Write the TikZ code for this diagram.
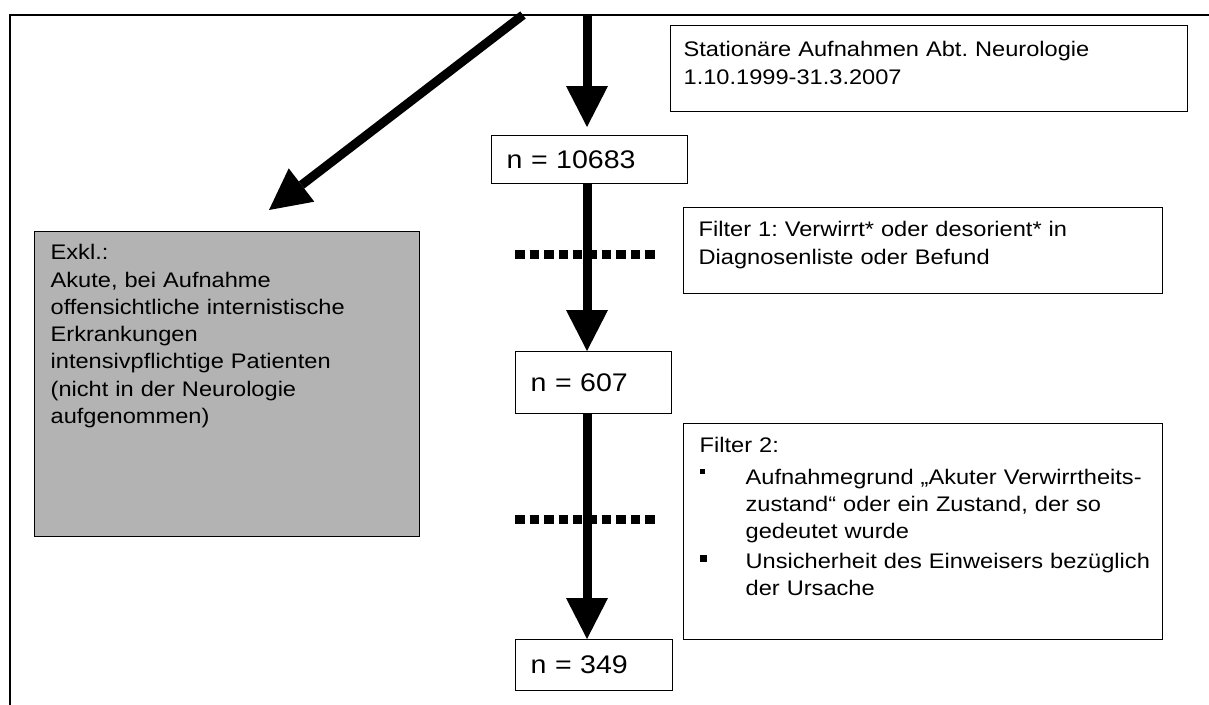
\documentclass[tikz,border=0pt]{standalone}
\usepackage{fontspec}
\setmainfont{Liberation Sans}[FakeStretch=1.12]
\usetikzlibrary{arrows.meta}
\definecolor{exclgray}{RGB}{179,179,179}
\newcommand\bodyfont{\fontsize{12}{15.5}\selectfont}
\newcommand\nfont{\fontsize{14.5}{17}\selectfont}
\newcommand\fbullet[2]{\makebox[0.92cm][l]{\rule[#1]{#2}{#2}}}
\frenchspacing

\begin{document}
\begin{tikzpicture}[x=0.02cm, y=-0.02cm, line width=0.75pt,
	infobox/.style={draw, rectangle, anchor=north west, inner sep=0pt},
	nbox/.style={infobox, font=\nfont, align=left, inner xsep=0.3cm, text width=#1},
	txt/.style={anchor=base west, inner sep=0pt, font=\bodyfont, align=left, text width=#1},
	fatarrow/.style={line width=0.18cm, -{Triangle[length=0.82cm, width=0.84cm, line width=0pt]}},
	dotline/.style={line width=0.18cm, dash pattern=on 0.19cm off 0.1cm}]
	\useasboundingbox (0,0) rectangle (1209,705);
	\draw[line width=1pt] (10,705) -- (10,15) -- (1209,15);
	\coordinate (arrtop) at (587,15);
	\coordinate (diagtop) at (523,15);
	\coordinate (diagtip) at (269,210);
	\coordinate (dot1a) at (515,255);
	\coordinate (dot1b) at (655,255);
	\coordinate (dot2a) at (515,519);
	\coordinate (dot2b) at (655,519);
	\node[infobox, minimum width=10.34cm, minimum height=1.72cm] (start) at (670,25) {};
	\node[txt=9.8cm] (starttxt) at ([shift={(13,32)}]start.north west) {Stationäre Aufnahmen Abt. Neurologie\\1.10.1999-31.3.2007};
	\node[nbox=3.32cm, minimum height=0.96cm] (n10683) at (491,135) {n = 10683};
	\node[infobox, minimum width=9.58cm, minimum height=1.72cm] (filter1) at (683,207) {};
	\node[txt=9.2cm] (filter1txt) at ([shift={(15,30)}]filter1.north west) {Filter 1: Verwirrt* oder desorient* in\\Diagnosenliste oder Befund};
	\node[nbox=2.52cm, minimum height=1.24cm] (n607) at (515,351) {n = 607};
	\node[infobox, minimum width=9.58cm, minimum height=4.32cm] (filter2) at (683,423) {};
	\node[txt=9.2cm] (filter2txt) at ([shift={(16,29)}]filter2.north west) {Filter 2:\\[0.1cm]
		\fbullet{0.2cm}{0.11cm}Aufnahmegrund „Akuter Verwirrtheits-\\
		\hspace*{0.92cm}zustand“ oder ein Zustand, der so\\
		\hspace*{0.92cm}gedeutet wurde\\[0.05cm]
		\fbullet{0.13cm}{0.14cm}Unsicherheit des Einweisers bezüglich\\
		\hspace*{0.92cm}der Ursache};
	\node[nbox=2.54cm, minimum height=1.02cm] (n349) at (515,639) {n = 349};
	\node[infobox, fill=exclgray, minimum width=7.7cm, minimum height=6.1cm] (exkl) at (34,231) {};
	\node[txt=7.2cm] (exkltxt) at ([shift={(16,29)}]exkl.north west) {Exkl.:\\Akute, bei Aufnahme\\offensichtliche internistische\\Erkrankungen\\intensivpflichtige Patienten\\(nicht in der Neurologie\\aufgenommen)};
	\draw[dotline] (dot1a) -- (dot1b);
	\draw[dotline] (dot2a) -- (dot2b);
	\draw[fatarrow, shorten >=0.16cm] (arrtop) -- (arrtop |- n10683.north);
	\draw[fatarrow] (arrtop |- n10683.south) -- (arrtop |- n607.north);
	\draw[fatarrow] (arrtop |- n607.south) -- (arrtop |- n349.north);
	\draw[fatarrow] (diagtop) -- (diagtip);
\end{tikzpicture}
\end{document}
